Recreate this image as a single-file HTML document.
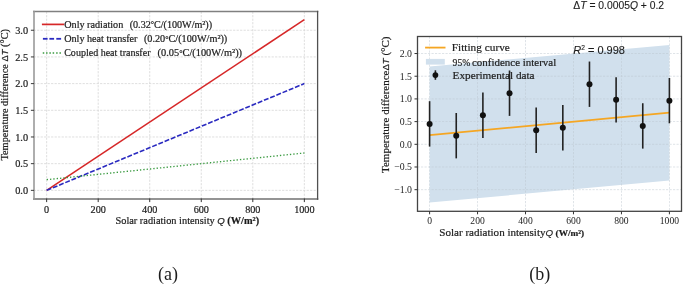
<!DOCTYPE html><html><head><meta charset="utf-8"><style>html,body{margin:0;padding:0;background:#fff;width:685px;height:284px;overflow:hidden}svg{display:block;will-change:transform}text{font-family:"Liberation Serif",serif;fill:#1c1c1c;stroke:#1c1c1c;stroke-width:0.2px}.n{stroke:none}.s{font-family:"Liberation Sans",sans-serif}</style></head><body>
<svg width="685" height="284" viewBox="0 0 685 284">
<line x1="46.65" y1="11.6" x2="46.65" y2="198.5" stroke="#d6d6d6" stroke-width="0.8" stroke-dasharray="2.2 1.3"/>
<line x1="98.19" y1="11.6" x2="98.19" y2="198.5" stroke="#d6d6d6" stroke-width="0.8" stroke-dasharray="2.2 1.3"/>
<line x1="149.73" y1="11.6" x2="149.73" y2="198.5" stroke="#d6d6d6" stroke-width="0.8" stroke-dasharray="2.2 1.3"/>
<line x1="201.27" y1="11.6" x2="201.27" y2="198.5" stroke="#d6d6d6" stroke-width="0.8" stroke-dasharray="2.2 1.3"/>
<line x1="252.81" y1="11.6" x2="252.81" y2="198.5" stroke="#d6d6d6" stroke-width="0.8" stroke-dasharray="2.2 1.3"/>
<line x1="304.35" y1="11.6" x2="304.35" y2="198.5" stroke="#d6d6d6" stroke-width="0.8" stroke-dasharray="2.2 1.3"/>
<line x1="33.6" y1="190.35" x2="317.2" y2="190.35" stroke="#d6d6d6" stroke-width="0.8" stroke-dasharray="2.2 1.3"/>
<line x1="33.6" y1="163.66" x2="317.2" y2="163.66" stroke="#d6d6d6" stroke-width="0.8" stroke-dasharray="2.2 1.3"/>
<line x1="33.6" y1="136.98" x2="317.2" y2="136.98" stroke="#d6d6d6" stroke-width="0.8" stroke-dasharray="2.2 1.3"/>
<line x1="33.6" y1="110.3" x2="317.2" y2="110.3" stroke="#d6d6d6" stroke-width="0.8" stroke-dasharray="2.2 1.3"/>
<line x1="33.6" y1="83.61" x2="317.2" y2="83.61" stroke="#d6d6d6" stroke-width="0.8" stroke-dasharray="2.2 1.3"/>
<line x1="33.6" y1="56.93" x2="317.2" y2="56.93" stroke="#d6d6d6" stroke-width="0.8" stroke-dasharray="2.2 1.3"/>
<line x1="33.6" y1="30.24" x2="317.2" y2="30.24" stroke="#d6d6d6" stroke-width="0.8" stroke-dasharray="2.2 1.3"/>
<line x1="46.65" y1="190.35" x2="304.35" y2="19.57" stroke="#d62728" stroke-width="1.6"/>
<line x1="46.65" y1="190.35" x2="304.35" y2="83.61" stroke="#2a2ac0" stroke-width="1.6" stroke-dasharray="4.92 1.8"/>
<line x1="46.65" y1="179.68" x2="304.35" y2="152.99" stroke="#3a9a40" stroke-width="1.35" stroke-dasharray="1.35 2.0"/>
<line x1="33" y1="11.5" x2="318.3" y2="11.5" stroke="#808080" stroke-width="1.5"/>
<line x1="33" y1="199" x2="318.3" y2="199" stroke="#707070" stroke-width="1.6"/>
<line x1="34" y1="10.8" x2="34" y2="199.8" stroke="#9a9a9a" stroke-width="1.6"/>
<line x1="317.6" y1="10.8" x2="317.6" y2="199.8" stroke="#505050" stroke-width="1.3"/>
<line x1="46.65" y1="198.5" x2="46.65" y2="202.1" stroke="#333" stroke-width="1"/>
<text x="46.65" y="212.5" font-size="10.2" text-anchor="middle">0</text>
<line x1="98.19" y1="198.5" x2="98.19" y2="202.1" stroke="#333" stroke-width="1"/>
<text x="98.19" y="212.5" font-size="10.2" text-anchor="middle">200</text>
<line x1="149.73" y1="198.5" x2="149.73" y2="202.1" stroke="#333" stroke-width="1"/>
<text x="149.73" y="212.5" font-size="10.2" text-anchor="middle">400</text>
<line x1="201.27" y1="198.5" x2="201.27" y2="202.1" stroke="#333" stroke-width="1"/>
<text x="201.27" y="212.5" font-size="10.2" text-anchor="middle">600</text>
<line x1="252.81" y1="198.5" x2="252.81" y2="202.1" stroke="#333" stroke-width="1"/>
<text x="252.81" y="212.5" font-size="10.2" text-anchor="middle">800</text>
<line x1="304.35" y1="198.5" x2="304.35" y2="202.1" stroke="#333" stroke-width="1"/>
<text x="304.35" y="212.5" font-size="10.2" text-anchor="middle">1000</text>
<line x1="30.9" y1="190.35" x2="34" y2="190.35" stroke="#3a3a3a" stroke-width="1"/>
<text x="28.1" y="193.95" font-size="10.3" text-anchor="end">0.0</text>
<line x1="30.9" y1="163.66" x2="34" y2="163.66" stroke="#3a3a3a" stroke-width="1"/>
<text x="28.1" y="167.26" font-size="10.3" text-anchor="end">0.5</text>
<line x1="30.9" y1="136.98" x2="34" y2="136.98" stroke="#3a3a3a" stroke-width="1"/>
<text x="28.1" y="140.58" font-size="10.3" text-anchor="end">1.0</text>
<line x1="30.9" y1="110.3" x2="34" y2="110.3" stroke="#3a3a3a" stroke-width="1"/>
<text x="28.1" y="113.89" font-size="10.3" text-anchor="end">1.5</text>
<line x1="30.9" y1="83.61" x2="34" y2="83.61" stroke="#3a3a3a" stroke-width="1"/>
<text x="28.1" y="87.21" font-size="10.3" text-anchor="end">2.0</text>
<line x1="30.9" y1="56.93" x2="34" y2="56.93" stroke="#3a3a3a" stroke-width="1"/>
<text x="28.1" y="60.53" font-size="10.3" text-anchor="end">2.5</text>
<line x1="30.9" y1="30.24" x2="34" y2="30.24" stroke="#3a3a3a" stroke-width="1"/>
<text x="28.1" y="33.84" font-size="10.3" text-anchor="end">3.0</text>
<line x1="41.9" y1="24.4" x2="64.2" y2="24.4" stroke="#d62728" stroke-width="1.7"/>
<line x1="42.9" y1="38.8" x2="47.6" y2="38.8" stroke="#2a2ac0" stroke-width="1.8"/>
<line x1="49.4" y1="38.8" x2="54.1" y2="38.8" stroke="#2a2ac0" stroke-width="1.8"/>
<line x1="56.3" y1="38.8" x2="61.1" y2="38.8" stroke="#2a2ac0" stroke-width="1.8"/>
<rect x="42.75" y="52.25" width="1.5" height="1.5" fill="#3a9a40"/>
<rect x="46.05" y="52.25" width="1.5" height="1.5" fill="#3a9a40"/>
<rect x="49.35" y="52.25" width="1.5" height="1.5" fill="#3a9a40"/>
<rect x="52.65" y="52.25" width="1.5" height="1.5" fill="#3a9a40"/>
<rect x="56.15" y="52.25" width="1.5" height="1.5" fill="#3a9a40"/>
<rect x="59.45" y="52.25" width="1.5" height="1.5" fill="#3a9a40"/>
<text x="64.2" y="28" font-size="10" textLength="59.1" lengthAdjust="spacingAndGlyphs">Only radiation</text>
<text x="129.7" y="28" font-size="10" textLength="82.4" lengthAdjust="spacingAndGlyphs">(0.32<tspan font-size="8" dy="-0.6">°</tspan><tspan dy="0.6">C/(100W/m²))</tspan></text>
<text x="64.2" y="42.3" font-size="10" textLength="73.3" lengthAdjust="spacingAndGlyphs">Only heat transfer</text>
<text x="143.9" y="42.3" font-size="10" textLength="83.4" lengthAdjust="spacingAndGlyphs">(0.20<tspan font-size="8" dy="-0.6">°</tspan><tspan dy="0.6">C/(100W/m²))</tspan></text>
<text x="64.2" y="56.3" font-size="10" textLength="86.3" lengthAdjust="spacingAndGlyphs">Coupled heat transfer</text>
<text x="157.5" y="56.3" font-size="10" textLength="84.6" lengthAdjust="spacingAndGlyphs">(0.05<tspan font-size="8" dy="-0.6">°</tspan><tspan dy="0.6">C/(100W/m²))</tspan></text>
<text x="115.5" y="223.5" font-size="10" textLength="143.6" lengthAdjust="spacingAndGlyphs">Solar radiation intensity <tspan class="s" font-style="italic" font-size="9.4">Q</tspan> <tspan font-weight="bold">(W/m²)</tspan></text>
<text x="0" y="0" font-size="10.6" textLength="131.6" lengthAdjust="spacingAndGlyphs" transform="translate(7.5,160.6) rotate(-90)">Temperature difference <tspan class="s" font-size="9.6">Δ</tspan><tspan class="s" font-size="9.6" font-style="italic">T</tspan> (°C)</text>
<text x="167.9" y="280" font-size="18" text-anchor="middle" class="n">(a)</text>
<polygon points="429.6,66.38 669.4,45.05 669.4,180.6 429.6,202.48" fill="#d1e0ed"/>
<line x1="429.6" y1="36.5" x2="429.6" y2="211.3" stroke="#bcc6cf" stroke-width="0.7" stroke-dasharray="2.2 1.3" opacity="0.7"/>
<line x1="477.56" y1="36.5" x2="477.56" y2="211.3" stroke="#bcc6cf" stroke-width="0.7" stroke-dasharray="2.2 1.3" opacity="0.7"/>
<line x1="525.52" y1="36.5" x2="525.52" y2="211.3" stroke="#bcc6cf" stroke-width="0.7" stroke-dasharray="2.2 1.3" opacity="0.7"/>
<line x1="573.48" y1="36.5" x2="573.48" y2="211.3" stroke="#bcc6cf" stroke-width="0.7" stroke-dasharray="2.2 1.3" opacity="0.7"/>
<line x1="621.44" y1="36.5" x2="621.44" y2="211.3" stroke="#bcc6cf" stroke-width="0.7" stroke-dasharray="2.2 1.3" opacity="0.7"/>
<line x1="669.4" y1="36.5" x2="669.4" y2="211.3" stroke="#bcc6cf" stroke-width="0.7" stroke-dasharray="2.2 1.3" opacity="0.7"/>
<line x1="417.5" y1="189.68" x2="681.5" y2="189.68" stroke="#bcc6cf" stroke-width="0.7" stroke-dasharray="2.2 1.3" opacity="0.7"/>
<line x1="417.5" y1="166.99" x2="681.5" y2="166.99" stroke="#bcc6cf" stroke-width="0.7" stroke-dasharray="2.2 1.3" opacity="0.7"/>
<line x1="417.5" y1="144.3" x2="681.5" y2="144.3" stroke="#bcc6cf" stroke-width="0.7" stroke-dasharray="2.2 1.3" opacity="0.7"/>
<line x1="417.5" y1="121.61" x2="681.5" y2="121.61" stroke="#bcc6cf" stroke-width="0.7" stroke-dasharray="2.2 1.3" opacity="0.7"/>
<line x1="417.5" y1="98.92" x2="681.5" y2="98.92" stroke="#bcc6cf" stroke-width="0.7" stroke-dasharray="2.2 1.3" opacity="0.7"/>
<line x1="417.5" y1="76.23" x2="681.5" y2="76.23" stroke="#bcc6cf" stroke-width="0.7" stroke-dasharray="2.2 1.3" opacity="0.7"/>
<line x1="417.5" y1="53.54" x2="681.5" y2="53.54" stroke="#bcc6cf" stroke-width="0.7" stroke-dasharray="2.2 1.3" opacity="0.7"/>
<line x1="429.6" y1="135.22" x2="669.4" y2="112.53" stroke="#f5a623" stroke-width="1.8"/>
<line x1="429.6" y1="101.19" x2="429.6" y2="146.57" stroke="#222" stroke-width="1.6"/>
<circle cx="429.6" cy="123.88" r="3" fill="#111"/>
<line x1="456.24" y1="112.99" x2="456.24" y2="158.37" stroke="#222" stroke-width="1.6"/>
<circle cx="456.24" cy="135.68" r="3" fill="#111"/>
<line x1="482.89" y1="92.57" x2="482.89" y2="137.95" stroke="#222" stroke-width="1.6"/>
<circle cx="482.89" cy="115.26" r="3" fill="#111"/>
<line x1="509.53" y1="70.51" x2="509.53" y2="115.89" stroke="#222" stroke-width="1.6"/>
<circle cx="509.53" cy="93.2" r="3" fill="#111"/>
<line x1="536.18" y1="107.54" x2="536.18" y2="152.92" stroke="#222" stroke-width="1.6"/>
<circle cx="536.18" cy="130.23" r="3" fill="#111"/>
<line x1="562.82" y1="105" x2="562.82" y2="150.38" stroke="#222" stroke-width="1.6"/>
<circle cx="562.82" cy="127.69" r="3" fill="#111"/>
<line x1="589.47" y1="61.53" x2="589.47" y2="106.91" stroke="#222" stroke-width="1.6"/>
<circle cx="589.47" cy="84.22" r="3" fill="#111"/>
<line x1="616.11" y1="77.14" x2="616.11" y2="122.52" stroke="#222" stroke-width="1.6"/>
<circle cx="616.11" cy="99.83" r="3" fill="#111"/>
<line x1="642.76" y1="103.23" x2="642.76" y2="148.61" stroke="#222" stroke-width="1.6"/>
<circle cx="642.76" cy="125.92" r="3" fill="#111"/>
<line x1="669.4" y1="77.95" x2="669.4" y2="123.33" stroke="#222" stroke-width="1.6"/>
<circle cx="669.4" cy="100.64" r="3" fill="#111"/>
<rect x="417.5" y="36.5" width="264" height="174.8" fill="none" stroke="#444" stroke-width="1.3"/>
<line x1="429.6" y1="211.3" x2="429.6" y2="214.3" stroke="#333" stroke-width="1"/>
<text x="429.6" y="223.8" font-size="9.6" text-anchor="middle" class="n">0</text>
<line x1="477.56" y1="211.3" x2="477.56" y2="214.3" stroke="#333" stroke-width="1"/>
<text x="477.56" y="223.8" font-size="9.6" text-anchor="middle" class="n">200</text>
<line x1="525.52" y1="211.3" x2="525.52" y2="214.3" stroke="#333" stroke-width="1"/>
<text x="525.52" y="223.8" font-size="9.6" text-anchor="middle" class="n">400</text>
<line x1="573.48" y1="211.3" x2="573.48" y2="214.3" stroke="#333" stroke-width="1"/>
<text x="573.48" y="223.8" font-size="9.6" text-anchor="middle" class="n">600</text>
<line x1="621.44" y1="211.3" x2="621.44" y2="214.3" stroke="#333" stroke-width="1"/>
<text x="621.44" y="223.8" font-size="9.6" text-anchor="middle" class="n">800</text>
<line x1="669.4" y1="211.3" x2="669.4" y2="214.3" stroke="#333" stroke-width="1"/>
<text x="669.4" y="223.8" font-size="9.6" text-anchor="middle" class="n">1000</text>
<line x1="414.5" y1="189.68" x2="417.5" y2="189.68" stroke="#333" stroke-width="1"/>
<text x="412" y="193.18" font-size="9.8" text-anchor="end" class="n">−1.0</text>
<line x1="414.5" y1="166.99" x2="417.5" y2="166.99" stroke="#333" stroke-width="1"/>
<text x="412" y="170.49" font-size="9.8" text-anchor="end" class="n">−0.5</text>
<line x1="414.5" y1="144.3" x2="417.5" y2="144.3" stroke="#333" stroke-width="1"/>
<text x="412" y="147.8" font-size="9.8" text-anchor="end" class="n">0.0</text>
<line x1="414.5" y1="121.61" x2="417.5" y2="121.61" stroke="#333" stroke-width="1"/>
<text x="412" y="125.11" font-size="9.8" text-anchor="end" class="n">0.5</text>
<line x1="414.5" y1="98.92" x2="417.5" y2="98.92" stroke="#333" stroke-width="1"/>
<text x="412" y="102.42" font-size="9.8" text-anchor="end" class="n">1.0</text>
<line x1="414.5" y1="76.23" x2="417.5" y2="76.23" stroke="#333" stroke-width="1"/>
<text x="412" y="79.73" font-size="9.8" text-anchor="end" class="n">1.5</text>
<line x1="414.5" y1="53.54" x2="417.5" y2="53.54" stroke="#333" stroke-width="1"/>
<text x="412" y="57.04" font-size="9.8" text-anchor="end" class="n">2.0</text>
<line x1="425.1" y1="47.6" x2="445.5" y2="47.6" stroke="#f5a623" stroke-width="1.8"/>
<text x="451.8" y="51.3" font-size="11.3" textLength="58" lengthAdjust="spacingAndGlyphs">Fitting curve</text>
<rect x="425.9" y="58.9" width="18.9" height="5.7" fill="#d1e0ed"/>
<text x="452.6" y="65.9" font-size="10.9" textLength="17.6" lengthAdjust="spacingAndGlyphs">95%</text>
<text x="472" y="65.9" font-size="10.9" textLength="84.2" lengthAdjust="spacingAndGlyphs">confidence interval</text>
<line x1="435.4" y1="70.3" x2="435.4" y2="79.8" stroke="#222" stroke-width="1.6"/>
<circle cx="435.4" cy="75.1" r="2.9" fill="#111"/>
<text x="452.6" y="79.4" font-size="11.4" textLength="82" lengthAdjust="spacingAndGlyphs">Experimental data</text>
<text x="573.3" y="53.8" font-size="10.6" class="s" textLength="51.6" lengthAdjust="spacingAndGlyphs" style="stroke-width:0.12px"><tspan font-style="italic">R</tspan><tspan font-size="6.4" dy="-3.6">2</tspan><tspan dy="3.6"> = 0.998</tspan></text>
<text x="573.3" y="9.2" font-size="10.2" class="s" textLength="90.8" lengthAdjust="spacingAndGlyphs" style="stroke-width:0.12px">Δ<tspan font-style="italic">T</tspan> = 0.0005<tspan font-style="italic">Q</tspan> + 0.2</text>
<text x="439.3" y="235.7" font-size="10.7" textLength="106.2" lengthAdjust="spacingAndGlyphs">Solar radiation intensity</text>
<text x="545.5" y="235.6" font-size="8.9" class="s" textLength="7.6" lengthAdjust="spacingAndGlyphs" font-style="italic" style="stroke-width:0.12px">Q</text>
<text x="555.6" y="235.6" font-size="9.1" textLength="28.6" lengthAdjust="spacingAndGlyphs" font-weight="bold">(W/m²)</text>
<text x="0" y="0" font-size="11.3" textLength="136.5" lengthAdjust="spacingAndGlyphs" transform="translate(389.4,173) rotate(-90)">Temperature difference<tspan class="s" font-size="9.8">Δ</tspan><tspan class="s" font-size="9.8" font-style="italic">T</tspan> (°C)</text>
<text x="539.8" y="280" font-size="18" text-anchor="middle" class="n">(b)</text>
</svg></body></html>
